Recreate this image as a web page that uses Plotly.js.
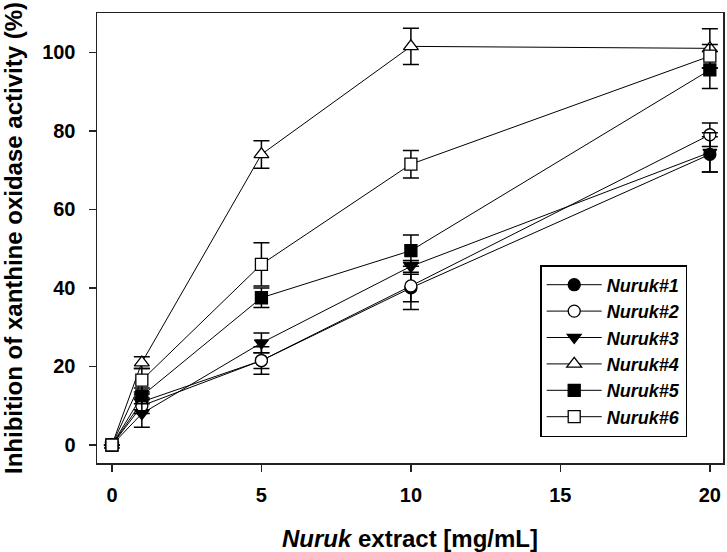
<!DOCTYPE html>
<html>
<head>
<meta charset="utf-8">
<script src="https://cdn.plot.ly/plotly-3.0.1.min.js"></script>
<style>body{margin:0;padding:0;background:#fff;}#chart{width:727px;height:552px;}</style>
</head>
<body>
<div id="chart"></div>
<script>
const xValues = [0, 1, 5, 10, 20];
const seriesNames = ["Nuruk#1", "Nuruk#2", "Nuruk#3", "Nuruk#4", "Nuruk#5", "Nuruk#6"];
const nuruk1 = [0, 11, 21.5, 40, 74];
const nuruk2 = [0, 10, 21.5, 40.5, 79];
const nuruk3 = [0, 8, 26, 45.5, 74.5];
const nuruk4 = [0, 21, 74, 101.5, 101];
const nuruk5 = [0, 12.5, 37.5, 49.5, 95.5];
const nuruk6 = [0, 16.5, 46, 71.5, 99];
const err1 = [0, 2, 2, 3.5, 4.5];
const err2 = [0, 2, 3.5, 6, 3];
const err3 = [0, 3.5, 2.5, 1.5, 5];
const err4 = [0, 1.5, 3.5, 4.6, 5];
const err5 = [0, 2, 2.5, 4, 4.7];
const err6 = [0, 3, 5.5, 3.5, 3];
const xTicks = [0, 5, 10, 15, 20];
const yTicks = [0, 20, 40, 60, 80, 100];

const values = [nuruk1, nuruk2, nuruk3, nuruk4, nuruk5, nuruk6];
const errors = [err1, err2, err3, err4, err5, err6];
const symbols = ["circle", "circle", "triangle-down", "triangle-up", "square", "square"];
const fills = ["black", "white", "black", "white", "black", "white"];
const sizes = [12, 12, 12, 13, 12, 12];

const traces = values.map((v, i) => ({
  x: xValues,
  y: v,
  name: "<b><i>" + seriesNames[i] + "</i></b>",
  type: "scatter",
  mode: "lines+markers",
  line: {color: "black", width: 1},
  marker: {symbol: symbols[i], size: sizes[i], color: fills[i], line: {color: "black", width: 1.3}},
  error_y: {type: "data", array: errors[i], visible: true, color: "black", thickness: 1.5, width: 8}
}));

const FONT = "Liberation Sans, Arial, sans-serif";
const layout = {
  width: 727, height: 552,
  margin: {l: 97, r: 4, t: 13, b: 89},
  paper_bgcolor: "white", plot_bgcolor: "white",
  font: {family: FONT, color: "black"},
  showlegend: true,
  legend: {
    x: 0.708, y: 0.44, xanchor: "left", yanchor: "top",
    bgcolor: "white", bordercolor: "black", borderwidth: 1.5,
    font: {size: 18, color: "black"},
    itemwidth: 55,
    tracegroupgap: 0
  },
  xaxis: {
    range: [-0.5, 20.44],
    tickvals: xTicks,
    ticktext: xTicks.map(String),
    ticks: "outside", ticklen: 7, tickwidth: 1.5, tickcolor: "#222",
    ticklabelstandoff: 6,
    showline: true, mirror: true, linecolor: "#222", linewidth: 1.5,
    showgrid: false, zeroline: false,
    tickfont: {size: 20, family: FONT, weight: "bold"},
    title: {text: "<b><i>Nuruk</i> extract [mg/mL]</b>", font: {size: 24}, standoff: 28}
  },
  yaxis: {
    range: [-4.58, 110],
    tickvals: yTicks,
    ticktext: yTicks.map(String),
    ticks: "outside", ticklen: 7, tickwidth: 1.5, tickcolor: "#222",
    ticklabelstandoff: 9,
    showline: true, mirror: true, linecolor: "#222", linewidth: 1.5,
    showgrid: false, zeroline: false,
    tickfont: {size: 20, family: FONT, weight: "bold"},
    title: {text: "<b>Inhibition of xanthine oxidase activity (%)</b>", font: {size: 24}, standoff: 12}
  }
};

Plotly.newPlot("chart", traces, layout, {displayModeBar: false, staticPlot: true});
</script>
</body>
</html>
